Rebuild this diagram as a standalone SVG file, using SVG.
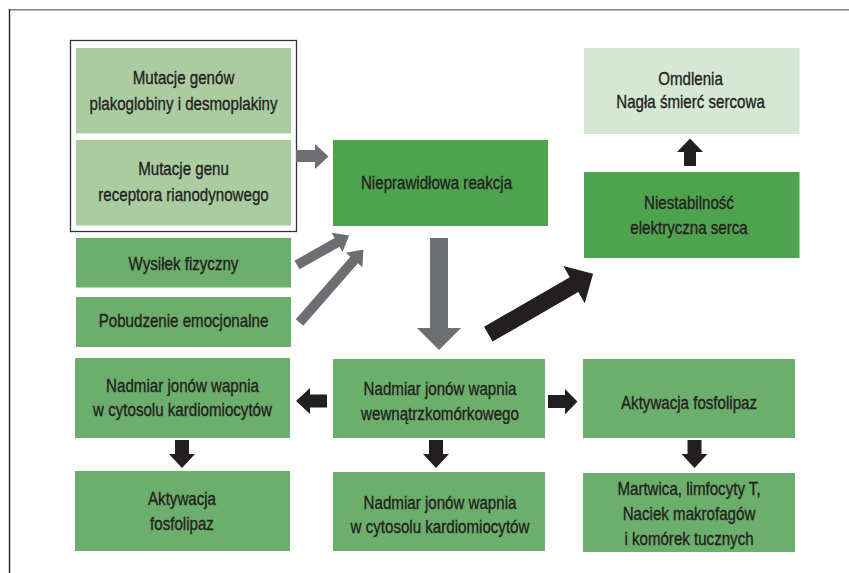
<svg xmlns="http://www.w3.org/2000/svg" width="849" height="573" viewBox="0 0 849 573">
<style>
.t{font-family:"Liberation Sans",Arial,sans-serif;font-size:18.2px;fill:#231f20;stroke:#231f20;stroke-width:0.35px;text-anchor:middle}
.light{fill:#aacca0}
.pale{fill:#d5e8d4}
.dark{fill:#4fa34f}
.mid{fill:#6cae6b}
.ga{fill:#6d6e71}
.ba{fill:#231f20}
</style>
<rect width="849" height="573" fill="#ffffff"/>
<g id="frame">
<line x1="9" y1="9.8" x2="849" y2="9.8" stroke="#808080" stroke-width="1.6"/>
<line x1="9.5" y1="9" x2="9.5" y2="573" stroke="#231f20" stroke-width="1.4"/>
</g>
<g id="mutations-group">
<rect x="70.5" y="40.5" width="226" height="191" fill="none" stroke="#333333" stroke-width="1.3"/>
</g>
<g id="n-mut1">
<rect class="light" x="76" y="48" width="215" height="85.5"/>
<text class="t" transform="translate(183.5 0) scale(0.83 1)"><tspan x="0" y="84">Mutacje genów</tspan><tspan x="0" y="110.5">plakoglobiny i desmoplakiny</tspan></text>
</g>
<g id="n-mut2">
<rect class="light" x="76" y="140" width="215" height="85.5"/>
<text class="t" transform="translate(183.5 0) scale(0.83 1)"><tspan x="0" y="175">Mutacje genu</tspan><tspan x="0" y="201">receptora rianodynowego</tspan></text>
</g>
<g id="n-wysilek">
<rect class="mid" x="76" y="238" width="215" height="49.5"/>
<text class="t" transform="translate(183.5 0) scale(0.83 1)"><tspan x="0" y="270">Wysiłek fizyczny</tspan></text>
</g>
<g id="n-pobudzenie">
<rect class="mid" x="76" y="297" width="215" height="50"/>
<text class="t" transform="translate(183.5 0) scale(0.83 1)"><tspan x="0" y="327">Pobudzenie emocjonalne</tspan></text>
</g>
<g id="n-nieprawidlowa">
<rect class="dark" x="333" y="140" width="215" height="86"/>
<text class="t" transform="translate(436.5 0) scale(0.83 1)"><tspan x="0" y="189">Nieprawidłowa reakcja</tspan></text>
</g>
<g id="n-omdlenia">
<rect class="pale" x="584" y="48" width="215.5" height="86"/>
<text class="t" transform="translate(690.5 0) scale(0.83 1)"><tspan x="0" y="85">Omdlenia</tspan><tspan x="0" y="108.5">Nagła śmierć sercowa</tspan></text>
</g>
<g id="n-niestabilnosc">
<rect class="dark" x="584" y="172" width="215.5" height="86"/>
<text class="t" transform="translate(689 0) scale(0.83 1)"><tspan x="0" y="209">Niestabilność</tspan><tspan x="0" y="234.5">elektryczna serca</tspan></text>
</g>
<g id="n-cyto1">
<rect class="mid" x="75" y="358" width="215" height="80"/>
<text class="t" transform="translate(182.5 0) scale(0.83 1)"><tspan x="0" y="392">Nadmiar jonów wapnia</tspan><tspan x="0" y="416.5">w cytosolu kardiomiocytów</tspan></text>
</g>
<g id="n-wewn">
<rect class="mid" x="333" y="359" width="212" height="79"/>
<text class="t" transform="translate(440 0) scale(0.83 1)"><tspan x="0" y="395.5">Nadmiar jonów wapnia</tspan><tspan x="0" y="420">wewnątrzkomórkowego</tspan></text>
</g>
<g id="n-fosfo1">
<rect class="mid" x="583" y="359" width="212" height="79"/>
<text class="t" transform="translate(689 0) scale(0.83 1)"><tspan x="0" y="409">Aktywacja fosfolipaz</tspan></text>
</g>
<g id="n-fosfo2">
<rect class="mid" x="75" y="471" width="215" height="80"/>
<text class="t" transform="translate(182 0) scale(0.83 1)"><tspan x="0" y="505.5">Aktywacja</tspan><tspan x="0" y="530.5">fosfolipaz</tspan></text>
</g>
<g id="n-cyto2">
<rect class="mid" x="333" y="472" width="212" height="79"/>
<text class="t" transform="translate(440 0) scale(0.83 1)"><tspan x="0" y="509">Nadmiar jonów wapnia</tspan><tspan x="0" y="533.5">w cytosolu kardiomiocytów</tspan></text>
</g>
<g id="n-martwica">
<rect class="mid" x="583" y="473" width="212" height="79"/>
<text class="t" transform="translate(689 0) scale(0.83 1)"><tspan x="0" y="495">Martwica, limfocyty T,</tspan><tspan x="0" y="520.5">Naciek makrofagów</tspan><tspan x="0" y="545">i komórek tucznych</tspan></text>
</g>
<g id="connectors">
<polygon class="ga" points="296,150 315,150 315,144 328.5,156.5 315,169 315,162 296,162"/>
<polygon class="ga" transform="translate(297 265) rotate(-29.5)" points="0,-5 46,-5 46,-11 60,0 46,11 46,5 0,5"/>
<polygon class="ga" transform="translate(299.5 322.5) rotate(-48.8)" points="0,-5 83,-5 83,-11 97,0 83,11 83,5 0,5"/>
<polygon class="ga" points="430,238 448,238 448,328 461,328 439,350 417,328 430,328"/>
<polygon class="ba" transform="translate(488.3 334.2) rotate(-30)" points="0,-8.5 99,-8.5 99,-21.5 121,0 99,21.5 99,8.5 0,8.5"/>
<polygon class="ba" points="684,166 696,166 696,152 703,152 690,138.5 677,152 684,152"/>
<polygon class="ba" points="327,394.5 327,407.5 310,407.5 310,414 296,401 310,388 310,394.5"/>
<polygon class="ba" points="548,395 548,408 565,408 565,414.5 577.5,401.5 565,389 565,395"/>
<polygon class="ba" points="175,440 189,440 189,454 195,454 182,468 169,454 175,454"/>
<polygon class="ba" points="429,440 443,440 443,454 449,454 436,468 423,454 429,454"/>
<polygon class="ba" points="687.5,440 701.5,440 701.5,454 707.5,454 694.5,468 681.5,454 687.5,454"/>
</g>
</svg>
